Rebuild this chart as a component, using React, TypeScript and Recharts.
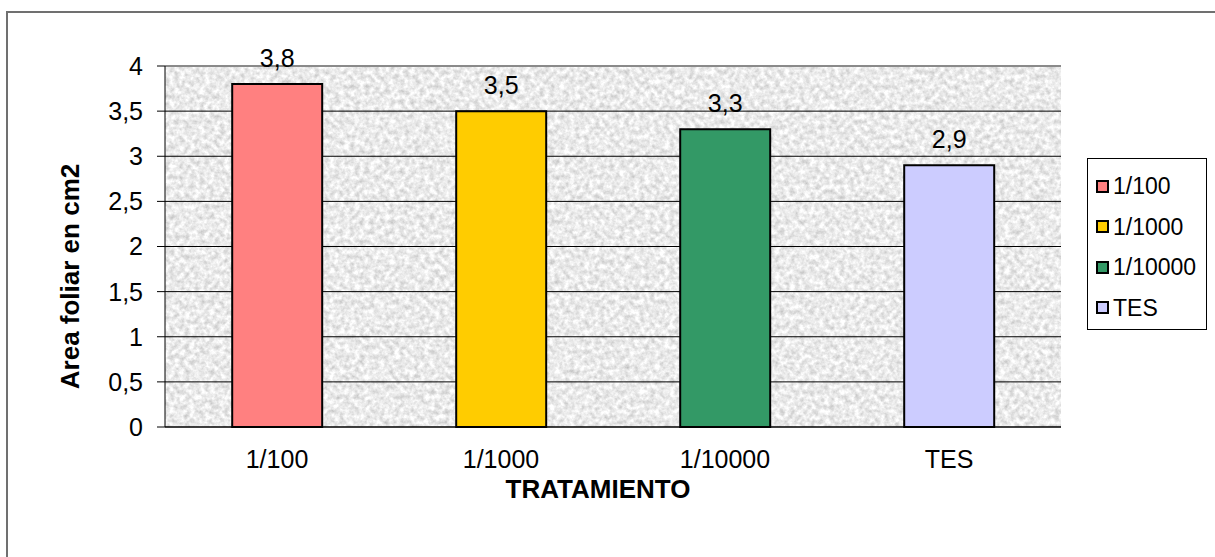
import React from "react";
import {
  BarChart,
  Bar,
  XAxis,
  YAxis,
  CartesianGrid,
  Cell,
  LabelList,
  Label,
  Legend,
  ReferenceLine,
} from "recharts";

const categories = ["1/100", "1/1000", "1/10000", "TES"];
const areaValues = [3.8, 3.5, 3.3, 2.9];
const barColors = ["#FF8080", "#FFCC00", "#339966", "#CCCCFF"];
const yTicks = [0, 0.5, 1, 1.5, 2, 2.5, 3, 3.5, 4];
const edgeTicks = [0, 1, 2, 3, 4];

const FONT = '"Liberation Sans", Arial, sans-serif';

const data = categories.map((name, i) => ({ tratamiento: name, area: areaValues[i] }));

// decimal comma, as in the Spanish locale
const comma = (v: number | string) => String(v).replace(".", ",");

const YTitle = (props: any) => {
  const vb = props.viewBox || {};
  const cx = vb.x + 5;
  const cy = vb.y + vb.height / 2 + 30;
  return (
    <text
      x={cx}
      y={cy}
      transform={`rotate(-90, ${cx}, ${cy})`}
      textAnchor="middle"
      dominantBaseline="central"
      fontFamily={FONT}
      fontWeight="bold"
      fontSize={26}
      fill="#000"
    >
      Area foliar en cm2
    </text>
  );
};

const XTitle = (props: any) => {
  const vb = props.viewBox || {};
  return (
    <text
      x={vb.x + vb.width / 2 - 15}
      y={vb.y + 71}
      textAnchor="middle"
      fontFamily={FONT}
      fontWeight="bold"
      fontSize={26}
      fill="#000"
    >
      TRATAMIENTO
    </text>
  );
};

const LegendBox = () => (
  <div
    style={{
      boxSizing: "border-box",
      width: "100%",
      height: "100%",
      border: "1px solid #000",
      background: "#fff",
      paddingTop: 7,
      paddingLeft: 8,
      fontFamily: FONT,
      fontSize: 23,
      lineHeight: "24px",
      color: "#000",
    }}
  >
    {categories.map((name, i) => (
      <div key={name} style={{ height: 40.5, display: "flex", alignItems: "center" }}>
        <span
          style={{
            boxSizing: "border-box",
            width: 13,
            height: 13,
            border: "2px solid #000",
            background: barColors[i],
            marginRight: 4,
            display: "inline-block",
            flex: "none",
          }}
        />
        <span style={{ fontSize: 23, fontFamily: FONT }}>{name}</span>
      </div>
    ))}
  </div>
);

export default function App() {
  return (
    <div
      style={{
        position: "fixed",
        left: 0,
        top: 0,
        width: 1215,
        height: 557,
        overflow: "hidden",
        background: "#fff",
      }}
    >
      <div
        style={{
          position: "absolute",
          left: 6,
          top: 11,
          width: 1300,
          height: 700,
          border: "2px solid #707070",
        }}
      />
      <div style={{ position: "absolute", left: 0, top: 0 }}>
        <BarChart
          width={1215}
          height={557}
          data={data}
          margin={{ top: 66, right: 154, bottom: 70, left: 65 }}
          barCategoryGap="30%"
        >
          <defs>
            <filter id="granite" x="0" y="0" width="100%" height="100%" colorInterpolationFilters="sRGB">
              <feTurbulence type="fractalNoise" baseFrequency="0.2" numOctaves={3} seed={7} result="n" />
              <feColorMatrix
                in="n"
                type="matrix"
                values="0.36 0 0 0 0.74  0.36 0 0 0 0.74  0.36 0 0 0 0.74  0 0 0 0 1"
              />
            </filter>
            <pattern id="graniteFill" patternUnits="userSpaceOnUse" x="0" y="0" width="1215" height="557">
              <rect width="1215" height="557" fill="#e8e8e8" filter="url(#granite)" />
            </pattern>
          </defs>
          <CartesianGrid vertical={false} stroke="#000" fill="url(#graniteFill)" fillOpacity={1} />
          <XAxis
            xAxisId="edges"
            type="number"
            domain={[0, 4]}
            ticks={edgeTicks}
            tick={false}
            axisLine={false}
            tickLine={{ stroke: "#000" }}
            tickSize={8}
            height={0}
          />
          <XAxis
            dataKey="tratamiento"
            tickLine={false}
            tickSize={8}
            tickMargin={15}
            axisLine={{ stroke: "#000" }}
            tick={{ fill: "#000", fontSize: 25, fontFamily: FONT }}
            height={60}
          >
            <Label content={XTitle} />
          </XAxis>
          <YAxis
            domain={[0, 4]}
            ticks={yTicks}
            tickFormatter={comma}
            tickSize={8}
            tickMargin={14}
            axisLine={{ stroke: "#000" }}
            tickLine={{ stroke: "#000" }}
            tick={{ fill: "#000", fontSize: 25, fontFamily: FONT }}
            width={100}
          >
            <Label content={YTitle} />
          </YAxis>
          <YAxis
            yAxisId="frame"
            orientation="right"
            domain={[0, 4]}
            tick={false}
            tickLine={false}
            axisLine={{ stroke: "#8a8a8a", strokeWidth: 2 }}
            width={0}
          />
          <ReferenceLine y={4} stroke="#8a8a8a" strokeWidth={2} />
          <Bar dataKey="area" stroke="#000" strokeWidth={2} isAnimationActive={false}>
            {data.map((d, i) => (
              <Cell key={d.tratamiento} fill={barColors[i]} />
            ))}
            <LabelList
              dataKey="area"
              position="top"
              offset={17}
              formatter={comma}
              fill="#000"
              fontSize={25}
              fontFamily={FONT}
            />
          </Bar>
          <Legend
            layout="horizontal"
            verticalAlign="middle"
            align="center"
            content={LegendBox}
            wrapperStyle={{ left: 1087, top: 158, width: 120, height: 172 }}
          />
        </BarChart>
      </div>
    </div>
  );
}
